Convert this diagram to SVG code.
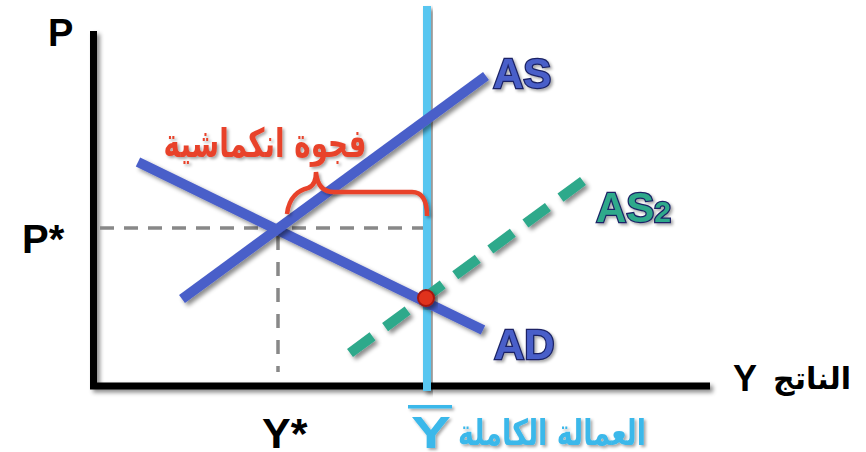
<svg xmlns="http://www.w3.org/2000/svg" width="866" height="452" viewBox="0 0 866 452">
<defs>
<filter id="sh" x="-20%" y="-20%" width="140%" height="140%">
<feDropShadow dx="3" dy="3" stdDeviation="2" flood-color="#000" flood-opacity="0.45"/>
</filter>
<filter id="tsh" x="-20%" y="-20%" width="140%" height="140%">
<feDropShadow dx="2" dy="2" stdDeviation="1.5" flood-color="#000" flood-opacity="0.35"/>
</filter>
</defs>
<style>
.lat{font-family:"Liberation Sans",Arial,sans-serif;font-weight:bold}
.ar{font-family:"DejaVu Sans","Noto Sans",sans-serif;font-weight:bold}
.blk{fill:#000}
.lbl{stroke:#1b2466;stroke-width:2.5;paint-order:stroke}
.axis{stroke:#000;stroke-width:7;fill:none}
.guide{stroke:#888;stroke-width:3.5;fill:none}
.curve{stroke:#4a5fc9;stroke-width:10;fill:none}
</style>
<rect width="866" height="452" fill="#fff"/>
<g id="connectors">
<g id="axes" filter="url(#sh)">
<line class="axis" x1="93.5" y1="31" x2="93.5" y2="389"/>
<line class="axis" x1="90" y1="386" x2="710" y2="386"/>
</g>
<g id="guides">
<line class="guide" x1="100" y1="228" x2="425" y2="228" stroke-dasharray="14 10"/>
<line class="guide" x1="278" y1="236" x2="278" y2="372" stroke-dasharray="14 12"/>
</g>
<g id="full-employment" filter="url(#sh)">
<rect x="423" y="6" width="8" height="385" fill="#58c6f0"/>
</g>
<g id="as2-curve" filter="url(#sh)">
<line x1="350" y1="353" x2="583" y2="181" stroke="#2fa98b" stroke-width="10" stroke-dasharray="28 15.6"/>
</g>
<g id="ad-curve" filter="url(#sh)">
<line class="curve" x1="138" y1="162" x2="483" y2="330"/>
</g>
<g id="as-curve" filter="url(#sh)">
<line class="curve" x1="182" y1="299" x2="486" y2="76"/>
</g>
<g id="gap-brace" filter="url(#tsh)">
<path d="M287,214 C289,197 299,190 308,188 C314,186 316,180 316,172 C317,184 322,192 334,192 L412,192 C422,192 427,200 427,216" fill="none" stroke="#e8432c" stroke-width="4.5"/>
</g>
</g>
<g id="equilibrium" filter="url(#sh)">
<circle cx="426" cy="298" r="8" fill="#e0301f" stroke="#a5190f" stroke-width="2"/>
</g>
<g id="labels">
<g id="label-P"><text class="lat blk" x="48" y="46" font-size="38">P</text></g>
<g id="label-Pstar"><text class="lat blk" x="22" y="253" font-size="40">P*</text></g>
<g id="label-Ystar"><text class="lat blk" x="262" y="448" font-size="43">Y*</text></g>
<g id="label-output"><text class="lat blk" x="733" y="391" font-size="36">Y</text><text class="ar blk" x="851" y="389" font-size="30" text-anchor="end">الناتج</text></g>
<g id="label-AS" filter="url(#tsh)"><text class="lat lbl" x="493" y="88" font-size="42" fill="#4a5fc9">AS</text></g>
<g id="label-AS2" filter="url(#tsh)"><text class="lat lbl" x="596" y="222" font-size="42" fill="#2fa98b">AS<tspan font-size="30">2</tspan></text></g>
<g id="label-AD" filter="url(#tsh)"><text class="lat lbl" x="494" y="359" font-size="42" fill="#4a5fc9">AD</text></g>
<g id="label-gap" filter="url(#tsh)"><text class="ar" transform="translate(265,157) scale(0.87,1.25)" x="0" y="0" font-size="32" text-anchor="middle" fill="#e8432c">فجوة انكماشية</text></g>
<g id="label-Ybar" filter="url(#tsh)">
<rect x="408" y="405" width="44" height="3.5" fill="#3bb8ea"/>
<text class="lat" transform="translate(411,448) scale(1.33,1)" x="0" y="0" font-size="45" fill="#3bb8ea">Y</text>
<text class="ar" transform="translate(646,445) scale(0.9,1.2)" x="0" y="0" font-size="30" text-anchor="end" fill="#3bb8ea">العمالة الكاملة</text>
</g>
</g>
</svg>
